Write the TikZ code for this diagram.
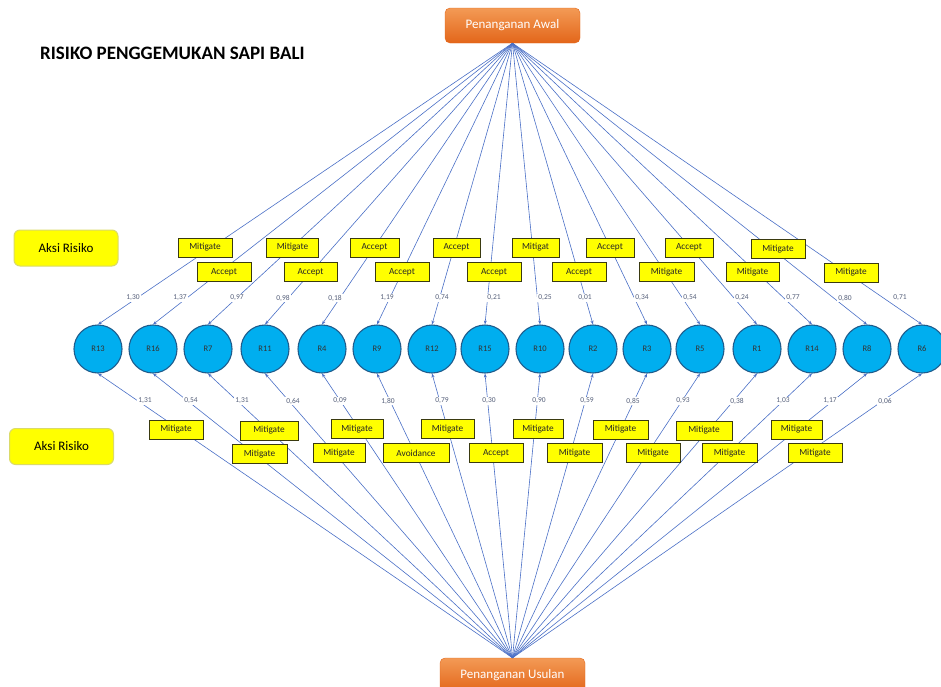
\documentclass[tikz,border=0pt]{standalone}
\usepackage{fontspec}
\setmainfont{Carlito}
\usetikzlibrary{calc,arrows.meta}
\definecolor{linkblue}{HTML}{4A6FC6}
\definecolor{riskfill}{HTML}{00AEEF}
\definecolor{riskdraw}{HTML}{1F5C8C}
\definecolor{boxyellow}{HTML}{FFFF00}
\definecolor{boxedge}{HTML}{3A3A10}
\definecolor{orangetop}{HTML}{F39A55}
\definecolor{orangebot}{HTML}{E3661A}
\definecolor{numcol}{HTML}{56607A}
\definecolor{sideedge}{HTML}{DADA6A}
\begin{document}
\begin{tikzpicture}[x=1pt,y=-1pt,
  conn/.style={draw=linkblue, line width=0.6pt, -{Stealth[length=4pt,width=3pt]}},
  risk/.style={circle, minimum size=48pt, inner sep=0pt, fill=riskfill, draw=riskdraw,
    line width=1.1pt, font=\fontsize{8.5}{9}\selectfont, text=black!80},
  act/.style={draw=boxedge, fill=boxyellow, line width=0.9pt, minimum height=19pt,
    inner sep=1pt, font=\fontsize{9.3}{10}\selectfont, text=black!85},
  num/.style={fill=white, inner sep=1pt, text=numcol, font=\fontsize{7.5}{8}\selectfont},
  handle/.style={rounded corners=5pt, minimum height=35pt, top color=orangetop,
    bottom color=orangebot, draw=orangebot, text=white, font=\fontsize{13}{14}\selectfont},
  side/.style={rounded corners=6pt, fill=boxyellow, draw=sideedge, line width=1pt,
    minimum width=104pt, minimum height=36pt, font=\fontsize{13}{14}\selectfont}
]
\useasboundingbox (0,0) rectangle (941,686);

% title
\node[anchor=west, inner sep=0pt, font=\fontsize{19}{20}\selectfont\bfseries] (title)
  at (40,53) {RISIKO PENGGEMUKAN SAPI BALI};

% side labels
\node[side] (aksiA) at (66,248) {Aksi Risiko};
\node[side] (aksiB) at (61.5,446.5) {Aksi Risiko};

% handling nodes
\node[handle, minimum width=135pt] (top) at (512.5,25.5) {Penanganan Awal};
\node[handle, minimum width=145pt, minimum height=34pt] (bot) at (512.5,675) {Penanganan Usulan};

% risk circles
\foreach \n/\x in {13/98,16/153,7/208,11/265,4/322,9/377,12/432,15/485,10/540,2/593,3/647,5/700,1/757,14/812,8/867,6/922}
  \node[risk] (R\n) at (\x,349) {R\n};

% connectors
\foreach \n in {13,16,7,11,4,9,12,15,10,2,3,5,1,14,8,6} {
  \draw[conn] (top.south) -- (R\n.north);
  \draw[conn] (bot.north) -- (R\n.south);
}

% upper action labels and values
\foreach \n/\t/\w/\bx/\by/\v/\vx in {
  13/Mitigate/54/205/247.5/1{,}30/133,
  16/Accept/54/224/272/1{,}37/180,
  7/Mitigate/52/292.5/247.5/0{,}97/237,
  11/Accept/53/310.5/272/0{,}98/283,
  4/Accept/49/374.5/247.5/0{,}18/335,
  9/Accept/54/402/272/1{,}19/387,
  12/Accept/47/456.5/247.5/0{,}74/442,
  15/Accept/54/494/272/0{,}21/494,
  10/Mitigat/47/535.5/247.5/0{,}25/545,
  2/Accept/54/579/272/0{,}01/585,
  3/Accept/48/610/247.5/0{,}34/642,
  5/Mitigate/55/666.5/272/0{,}54/690,
  1/Accept/48/689/247.5/0{,}24/742,
  14/Mitigate/53/752.5/272/0{,}77/793,
  8/Mitigate/54/778/249/0{,}80/845,
  6/Mitigate/54/851/272.5/0{,}71/900} {
  \node[act, minimum width=\w] (ua\n) at (\bx,\by) {\t};
  \node[num] (uv\n) at (\vx,298) {\v};
}

% lower action labels and values
\foreach \n/\t/\w/\bx/\by/\v/\vx in {
  13/Mitigate/54/176/429.5/1{,}31/145,
  16/Mitigate/55/259.5/454/0{,}54/191,
  7/Mitigate/58/269/430.5/1{,}31/242,
  11/Mitigate/52/339/453/0{,}64/293,
  4/Mitigate/52/357/429/0{,}09/340,
  9/Avoidance/66/416/453/1{,}80/388,
  12/Mitigate/53/447.5/429/0{,}79/442,
  15/Accept/54/496/453/0{,}30/489,
  10/Mitigate/50/538/429/0{,}90/539,
  2/Mitigate/55/574.5/453/0{,}59/587,
  3/Mitigate/55/620.5/429.5/0{,}85/633,
  5/Mitigate/54/653/453/0{,}93/683,
  1/Mitigate/56/704/430.5/0{,}38/737,
  14/Mitigate/55/729.5/453/1{,}03/783,
  8/Mitigate/51/796.5/429.5/1{,}17/830,
  6/Mitigate/54/815/453/0{,}06/885} {
  \node[act, minimum width=\w] (la\n) at (\bx,\by) {\t};
  \node[num] (lv\n) at (\vx,401) {\v};
}
\end{tikzpicture}
\end{document}
